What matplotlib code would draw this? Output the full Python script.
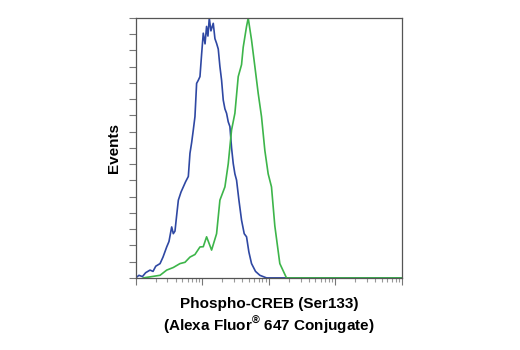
import matplotlib
matplotlib.use("Agg")
import matplotlib.pyplot as plt
from matplotlib import font_manager
from matplotlib.ticker import LogLocator, NullFormatter, FixedLocator

# fluorescence intensity (log axis) and event counts
blue_x = [10, 11.2, 12.6, 14.1, 16.4, 18.2, 20, 23.2, 25.7, 29.2, 31.6, 34.7,
          36.7, 38.9, 41.2, 43.7, 47.9, 51.9, 56.2, 61.7, 65.3, 69.2, 73.3,
          77.6, 82.2, 87.1, 92.3, 97.7, 103.5, 110, 116, 121.6, 127.4, 134.9,
          146.2, 154.9, 164, 173.8, 184, 195, 206.5, 218.8, 231.7, 245.5, 260,
          275.4, 291.7, 309, 327.3, 354.8, 389, 426.6, 462.4, 501, 549.5, 631,
          733, 922.6, 100000]
blue_y = [0, 1, 0.5, 2, 3, 2.5, 4.5, 5.5, 8, 11.9, 14, 19.6, 17, 18, 24, 29.9,
          33, 35, 37, 39, 47.9, 52, 56.9, 62, 74.8, 76, 77.4, 86, 94.1, 90,
          96.7, 93, 99.9, 95, 97.9, 92, 90.2, 88, 81.3, 76, 68.4, 65, 63.3, 60,
          58.2, 50, 44, 40, 37.6, 30, 22.2, 17, 15.8, 10, 5.5, 2.5, 1, 0, 0]

green_x = [13.0, 23.2, 29.2, 36.7, 46.2, 55.0, 65.3, 77.6, 92.3, 103.5, 116.1,
           138, 164, 184, 218.8, 245.5, 275.4, 309, 346.7, 389, 412, 462.4,
           489.8, 549.5, 616.6, 691.8, 776.2, 871, 977.2, 1096, 1230, 1462,
           1841, 100000]
green_y = [0, 1.0, 3.0, 4, 5.5, 6, 8, 9, 11.9, 12, 15.8, 10.7, 17, 29.9, 35,
           43.9, 56.9, 63.3, 77.4, 82, 88.7, 96.7, 99.9, 91.5, 81.3, 71, 62,
           49, 40, 35, 20, 5.5, 0, 0]

names = {f.name for f in font_manager.fontManager.ttflist}
if "Liberation Sans Narrow" in names:
    font, size = ["Liberation Sans Narrow"], 12
else:
    font, size = ["Liberation Sans", "DejaVu Sans"], 11

fig = plt.figure(figsize=(5.2, 3.5), dpi=100)
ax = fig.add_axes([0.261, 0.206, 0.512, 0.743])

ax.plot(blue_x, blue_y, color="#2f48a3", lw=1.2)
ax.plot(green_x, green_y, color="#3db54a", lw=1.2)

ax.set_xscale("log")
ax.set_xlim(10, 100000)
ax.set_ylim(0, 100)

ax.xaxis.set_major_locator(LogLocator(base=10, numticks=10))
ax.xaxis.set_minor_locator(LogLocator(base=10, subs=range(2, 10), numticks=50))
ax.xaxis.set_major_formatter(NullFormatter())
ax.xaxis.set_minor_formatter(NullFormatter())
ax.yaxis.set_major_locator(FixedLocator([i * 100 / 16 for i in range(17)]))
ax.set_yticklabels([])

ax.tick_params(axis="both", which="major", direction="out", length=5,
               width=0.8, color="#777777")
ax.tick_params(axis="x", which="minor", direction="out", length=3,
               width=0.8, color="#999999")
ax.tick_params(top=False, right=False)
for s in ax.spines.values():
    s.set_color("#555555")
    s.set_linewidth(0.9)

ax.set_ylabel("Events", fontsize=size, fontweight="bold", family=font,
              labelpad=2)
ax.set_xlabel("Phospho-CREB (Ser133)\n(Alexa Fluor$^{\\mathregular{\u00ae}}$ 647 Conjugate)",
              fontsize=size, fontweight="bold", family=font, labelpad=5,
              linespacing=1.25)

fig.savefig("out.png", dpi=100)
